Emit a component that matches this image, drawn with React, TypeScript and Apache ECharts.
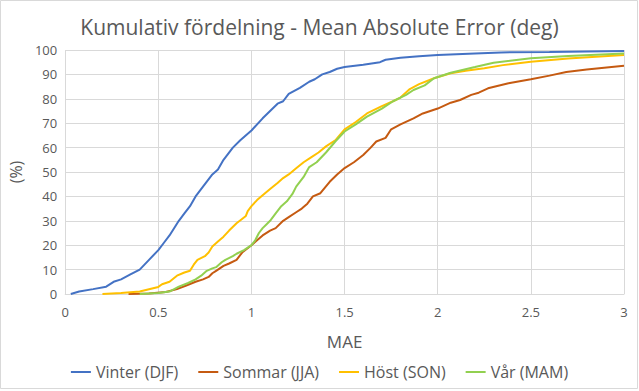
import React, { useEffect, useRef } from "react";
import * as echarts from "echarts";

const seriesNames = ["Vinter (DJF)", "Sommar (JJA)", "Höst (SON)", "Vår (MAM)"];
const seriesColors = ["#4472C4", "#C55A11", "#FFC000", "#92D050"];

const xVinter = [0.03, 0.075, 0.15, 0.22, 0.26, 0.3, 0.35, 0.4, 0.45, 0.5, 0.53, 0.56, 0.61, 0.64, 0.67, 0.7, 0.75, 0.79, 0.82, 0.85, 0.9, 0.94, 1.0, 1.06, 1.1, 1.14, 1.17, 1.2, 1.26, 1.31, 1.34, 1.38, 1.42, 1.46, 1.5, 1.6, 1.69, 1.72, 1.8, 1.9, 2.0, 2.2, 2.34, 2.6, 3.0];
const yVinter = [0, 1, 2, 3, 5, 6, 8, 10, 14, 18, 21, 24, 30, 33, 36, 40, 45, 49, 51, 55, 60, 63, 67, 72, 75, 78, 79, 82, 84.5, 87, 88, 90, 91, 92.3, 93, 94, 95, 96, 96.8, 97.4, 98, 98.6, 99, 99.2, 99.6];

const xSommar = [0.34, 0.45, 0.54, 0.6, 0.65, 0.7, 0.74, 0.77, 0.79, 0.81, 0.85, 0.88, 0.92, 0.95, 1.0, 1.03, 1.06, 1.1, 1.13, 1.17, 1.2, 1.24, 1.27, 1.3, 1.33, 1.37, 1.42, 1.46, 1.5, 1.55, 1.6, 1.64, 1.67, 1.72, 1.75, 1.8, 1.87, 1.92, 2.0, 2.07, 2.12, 2.18, 2.22, 2.27, 2.38, 2.5, 2.6, 2.69, 2.8, 3.0];
const ySommar = [0, 0.2, 0.8, 2, 3.5, 5, 6, 7, 8.5, 9.5, 11.5, 12.5, 14, 17, 20, 22, 24, 26, 27, 30, 31.5, 33.5, 35, 37, 40, 41.3, 46, 49, 51.6, 54, 57, 60, 62.5, 64, 67.5, 69.5, 72, 74, 76, 78.4, 79.5, 81.6, 82.5, 84.3, 86.4, 88, 89.5, 91, 92, 93.5];

const xHost = [0.2, 0.3, 0.4, 0.5, 0.52, 0.56, 0.6, 0.64, 0.67, 0.69, 0.71, 0.75, 0.77, 0.79, 0.82, 0.85, 0.88, 0.92, 0.97, 0.98, 1.0, 1.03, 1.06, 1.1, 1.14, 1.17, 1.2, 1.24, 1.28, 1.32, 1.36, 1.4, 1.45, 1.5, 1.56, 1.62, 1.7, 1.76, 1.8, 1.85, 1.9, 1.98, 2.07, 2.15, 2.25, 2.35, 2.5, 2.7, 3.0];
const yHost = [0, 0.4, 1, 2.9, 4, 5, 7.5, 8.8, 9.5, 12, 14, 15.5, 17, 19.5, 21.5, 23.5, 26, 29, 32, 34, 36, 38.5, 40.5, 43, 45.5, 47.5, 49, 51.5, 54, 56, 58, 60.5, 63, 67.5, 70.5, 74, 77, 79, 80.5, 84, 86, 88.4, 90.5, 91.5, 92.5, 93.8, 95.2, 96.5, 98];

const xVar = [0.4, 0.5, 0.56, 0.61, 0.66, 0.7, 0.73, 0.76, 0.79, 0.81, 0.84, 0.86, 0.9, 0.92, 0.96, 1.0, 1.02, 1.04, 1.06, 1.08, 1.1, 1.13, 1.16, 1.19, 1.22, 1.24, 1.28, 1.31, 1.35, 1.4, 1.45, 1.5, 1.56, 1.62, 1.7, 1.76, 1.83, 1.87, 1.93, 1.98, 2.07, 2.2, 2.3, 2.5, 2.7, 3.0];
const yVar = [0, 0.4, 1, 3, 4.5, 6, 7.5, 9.5, 10.5, 11, 13, 14, 15.5, 16.5, 18, 20, 22, 25, 27, 28.5, 30, 33, 36, 38, 41, 44, 48, 52, 54, 58, 62.5, 66.6, 69.5, 72.7, 76, 79, 81.6, 83.6, 85.5, 88.4, 90.7, 93, 94.8, 96.6, 97.5, 98.6];

const xs = [xVinter, xSommar, xHost, xVar];
const ys = [yVinter, ySommar, yHost, yVar];

const FONT = "'Open Sans', 'Noto Sans', sans-serif";
const TEXT = "#595959";

export default function App() {
  const ref = useRef<HTMLDivElement>(null);
  useEffect(() => {
    document.body.style.margin = "0";
    if (!ref.current) return;
    const chart = echarts.init(ref.current, null, { renderer: "svg" });
    chart.setOption({
      animation: false,
      backgroundColor: "#ffffff",
      textStyle: { fontFamily: FONT },
      title: {
        text: "Kumulativ fördelning - Mean Absolute Error (deg)",
        left: "center",
        top: 11,
        textStyle: { fontFamily: FONT, fontSize: 21, fontWeight: "normal", color: TEXT },
      },
      graphic: [
        {
          type: "rect",
          shape: { x: 0.5, y: 0.5, width: 637, height: 388 },
          style: { fill: "none", stroke: "#D9D9D9", lineWidth: 1 },
          silent: true,
        },
      ],
      legend: {
        left: "center",
        top: 359,
        icon: "rect",
        itemWidth: 20,
        itemHeight: 2,
        itemGap: 20,
        textStyle: { fontFamily: FONT, fontSize: 16, color: TEXT },
        data: seriesNames,
      },
      grid: { left: 65, right: 15, top: 50, bottom: 97, containLabel: false },
      xAxis: {
        type: "value",
        min: 0,
        max: 3,
        interval: 0.5,
        name: "MAE",
        nameLocation: "middle",
        nameGap: 39,
        nameTextStyle: { fontFamily: FONT, fontSize: 17, color: TEXT },
        axisLine: { show: true, lineStyle: { color: "#D9D9D9" } },
        axisTick: { show: false },
        axisLabel: { color: TEXT, fontSize: 13, margin: 11, fontFamily: FONT },
        splitLine: { show: true, lineStyle: { color: "#D9D9D9" } },
      },
      yAxis: {
        type: "value",
        min: 0,
        max: 100,
        interval: 10,
        name: "(%)",
        nameLocation: "middle",
        nameGap: 40,
        nameTextStyle: { fontFamily: FONT, fontSize: 16, color: TEXT },
        axisLine: { show: false },
        axisTick: { show: false },
        axisLabel: { color: TEXT, fontSize: 13, margin: 8, fontFamily: FONT },
        splitLine: { show: true, lineStyle: { color: "#D9D9D9" } },
      },
      series: seriesNames.map((name, i) => ({
        name,
        type: "line",
        showSymbol: false,
        symbol: "none",
        color: seriesColors[i],
        lineStyle: { width: 2, color: seriesColors[i] },
        data: xs[i].map((x, j) => [x, ys[i][j]]),
      })),
    });
    return () => chart.dispose();
  }, []);
  return <div ref={ref} style={{ width: 639, height: 391 }} />;
}
